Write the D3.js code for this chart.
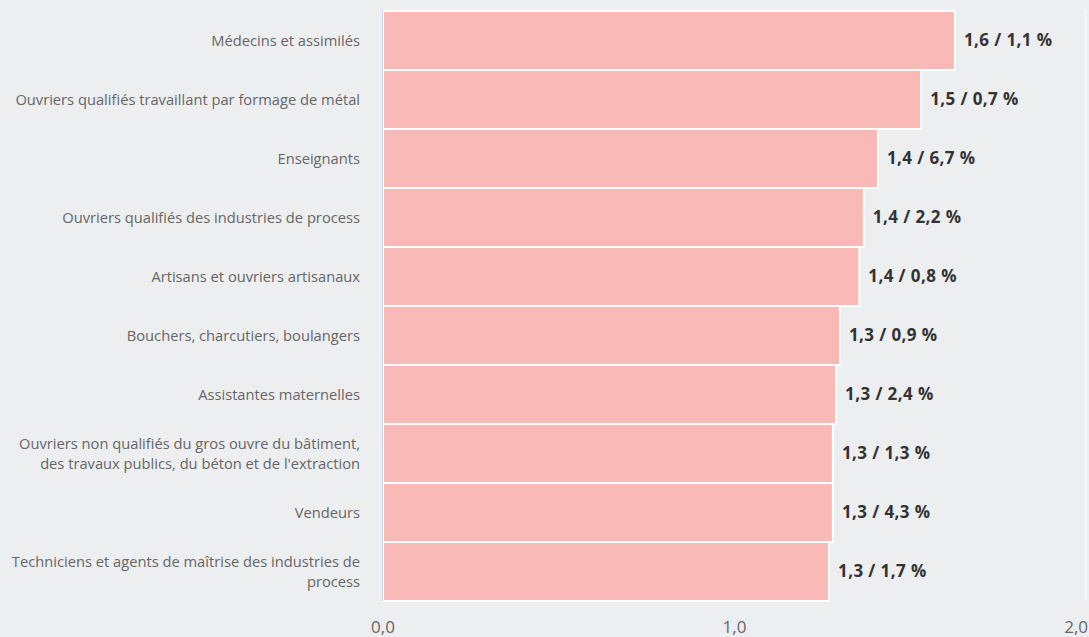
<!DOCTYPE html>
<html>
<head>
<meta charset="utf-8">
<script src="https://cdn.jsdelivr.net/npm/d3@7"></script>
<style>
  html, body { margin: 0; padding: 0; background: #edeef0; }
  svg { display: block; font-family: "Open Sans", sans-serif; }
</style>
</head>
<body>
<div id="chart"></div>
<script>
// chart data
const categories = [
  "Médecins et assimilés",
  "Ouvriers qualifiés travaillant par formage de métal",
  "Enseignants",
  "Ouvriers qualifiés des industries de process",
  "Artisans et ouvriers artisanaux",
  "Bouchers, charcutiers, boulangers",
  "Assistantes maternelles",
  "Ouvriers non qualifiés du gros ouvre du bâtiment, des travaux publics, du béton et de l'extraction",
  "Vendeurs",
  "Techniciens et agents de maîtrise des industries de process"
];
const ratios = [1.627, 1.531, 1.408, 1.368, 1.355, 1.300, 1.289, 1.280, 1.280, 1.269];
const shares = [1.1, 0.7, 6.7, 2.2, 0.8, 0.9, 2.4, 1.3, 4.3, 1.7];
const xTicks = [0, 1, 2];

// dimensions
const width = 1089;
const height = 637;
const margin = {left: 383, right: 3, top: 11, bottom: 36};

const fmt = v => d3.format(".1f")(v).replace(".", ",");

const svg = d3.select("#chart")
  .append("svg")
  .attr("width", width)
  .attr("height", height);

svg.append("rect")
  .attr("width", width)
  .attr("height", height)
  .attr("fill", "#edeef0");

// scales
const xScale = d3.scaleLinear()
  .domain([0, 2])
  .range([margin.left, width - margin.right]);

const yScale = d3.scaleBand()
  .domain(d3.range(categories.length))
  .range([margin.top, height - margin.bottom])
  .padding(0);

// white grid lines
svg.append("g")
  .selectAll("line")
  .data(xTicks)
  .join("line")
    .attr("x1", d => xScale(d) - 0.5)
    .attr("x2", d => xScale(d) - 0.5)
    .attr("y1", margin.top - 1)
    .attr("y2", height - margin.bottom)
    .attr("stroke", "#ffffff")
    .attr("stroke-width", 1);

// bars
svg.selectAll(".bar")
  .data(ratios)
  .join("rect")
    .attr("class", "bar")
    .attr("x", xScale(0))
    .attr("y", (d, i) => yScale(i))
    .attr("width", d => xScale(d) - xScale(0))
    .attr("height", yScale.bandwidth())
    .attr("fill", "#f9b9b6")
    .attr("stroke", "#ffffff")
    .attr("stroke-width", 2);

// value labels
svg.selectAll(".val")
  .data(ratios)
  .join("text")
    .attr("class", "val")
    .attr("x", d => xScale(d) + 9)
    .attr("y", (d, i) => yScale(i) + yScale.bandwidth() / 2)
    .attr("dy", "0.35em")
    .attr("font-size", "17px")
    .attr("letter-spacing", "0.4px")
    .attr("font-weight", "bold")
    .attr("fill", "#333333")
    .text((d, i) => fmt(d) + " / " + fmt(shares[i]) + " %");

// y axis line
svg.append("line")
  .attr("x1", xScale(0) - 0.5)
  .attr("x2", xScale(0) - 0.5)
  .attr("y1", margin.top - 1)
  .attr("y2", height - margin.bottom)
  .attr("stroke", "#ccd6eb")
  .attr("stroke-width", 1);

// category labels, wrapped
const labelX = 360;
const maxW = 352;
const lineH = 20;
const labels = svg.append("g")
  .selectAll("text")
  .data(categories)
  .join("text")
    .attr("x", labelX)
    .attr("text-anchor", "end")
    .attr("font-size", "14.7px")
    .attr("fill", "#666666");

labels.each(function(d, i) {
  const t = d3.select(this);
  const words = d.split(" ");
  const lines = [];
  let line = [];
  const probe = t.append("tspan");
  words.forEach(w => {
    line.push(w);
    probe.text(line.join(" "));
    if (probe.node().getComputedTextLength() > maxW && line.length > 1) {
      line.pop();
      lines.push(line.join(" "));
      line = [w];
    }
  });
  lines.push(line.join(" "));
  probe.remove();
  const cy = yScale(i) + yScale.bandwidth() / 2;
  lines.forEach((l, k) => {
    t.append("tspan")
      .attr("x", labelX)
      .attr("y", cy + (k - (lines.length - 1) / 2) * lineH)
      .attr("dy", "0.35em")
      .text(l);
  });
});

// x axis tick labels
svg.append("g")
  .selectAll("text")
  .data(xTicks)
  .join("text")
    .attr("x", (d, i) => i === xTicks.length - 1 ? width - 1 : xScale(d))
    .attr("y", 627)
    .attr("dy", "0.35em")
    .attr("text-anchor", (d, i) => i === xTicks.length - 1 ? "end" : "middle")
    .attr("font-size", "17px")
    .attr("fill", "#666666")
    .text(d => fmt(d));
</script>
</body>
</html>
